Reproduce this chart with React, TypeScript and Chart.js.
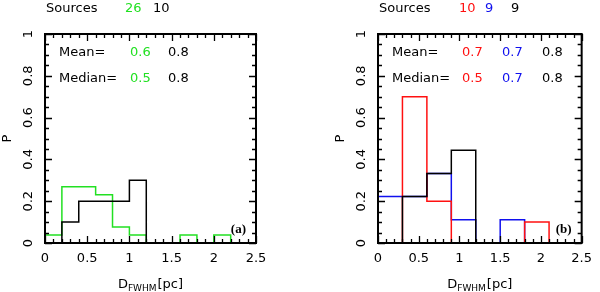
import React, { useEffect, useRef } from "react";
import { Chart, registerables } from "chart.js";
Chart.register(...registerables);

const SANS = "'DejaVu Sans', 'Liberation Sans', sans-serif";
const SERIF = "'Liberation Serif', 'DejaVu Serif', serif";

// Panel (a): bins of 0.2 pc
const edgesA = [0, 0.2, 0.4, 0.6, 0.8, 1.0, 1.2, 1.4, 1.6, 1.8, 2.0, 2.2, 2.4];
const greenA = [0.038, 0.269, 0.269, 0.231, 0.077, 0.038, 0, 0, 0.038, 0, 0.038, 0];
const blackA = [0, 0.1, 0.2, 0.2, 0.2, 0.3, 0, 0, 0, 0, 0, 0];

// Panel (b): bins of 0.3 pc
const edgesB = [0, 0.3, 0.6, 0.9, 1.2, 1.5, 1.8, 2.1, 2.4];
const redB = [0, 0.7, 0.2, 0, 0, 0, 0.1, 0];
const blueB = [0.222, 0.222, 0.333, 0.111, 0, 0.111, 0, 0];
const blackB = [0, 0.222, 0.333, 0.444, 0, 0, 0, 0];

const GREEN = "#22e022";
const RED = "#ff1010";
const BLUE = "#1010ee";
const BLACK = "#000000";

// Header / statistics text
const sourcesA = ["26", "10"];
const meanA = ["0.6", "0.8"];
const medianA = ["0.5", "0.8"];
const sourcesB = ["10", "9", "9"];
const meanB = ["0.7", "0.7", "0.8"];
const medianB = ["0.5", "0.7", "0.8"];

function makeSteps(edges: number[], vals: number[]) {
  const pts = vals.map((v, i) => ({ x: edges[i], y: v }));
  pts.push({ x: edges[vals.length], y: 0 });
  return pts;
}

function fmt(v: number) {
  return String(Math.round(v * 10) / 10);
}

type TextItem = { text: string; color: string; x: number };
type PanelCfg = {
  edges: number[];
  series: { values: number[]; color: string }[];
  yWidth: number;
  padRight: number;
  header: TextItem[];
  mean: TextItem[];
  median: TextItem[];
  tag: string;
};

function overlay(cfg: PanelCfg) {
  return {
    id: "overlay",
    afterDraw(chart: any) {
      const ctx = chart.ctx as CanvasRenderingContext2D;
      const ca = chart.chartArea;
      const xs = chart.scales.x;
      const ys = chart.scales.y;
      ctx.save();
      ctx.strokeStyle = "#000";
      ctx.fillStyle = "#000";
      // ticks
      ctx.lineWidth = 1.3;
      ctx.beginPath();
      for (let i = 0; i <= 25; i++) {
        const px = Math.round(xs.getPixelForValue(i / 10)) + 0.5;
        const len = i % 5 === 0 ? 7 : 4;
        ctx.moveTo(px, ca.bottom);
        ctx.lineTo(px, ca.bottom - len);
        ctx.moveTo(px, ca.top);
        ctx.lineTo(px, ca.top + len);
      }
      for (let i = 0; i <= 20; i++) {
        const py = Math.round(ys.getPixelForValue(i / 20)) + 0.5;
        const len = i % 4 === 0 ? 7 : 4;
        ctx.moveTo(ca.left, py);
        ctx.lineTo(ca.left + len, py);
        ctx.moveTo(ca.right, py);
        ctx.lineTo(ca.right - len, py);
      }
      ctx.stroke();
      // frame
      ctx.lineWidth = 2;
      ctx.strokeRect(ca.left, ca.top, ca.right - ca.left, ca.bottom - ca.top);
      // y tick labels (rotated)
      ctx.font = `13px ${SANS}`;
      ctx.textAlign = "center";
      ctx.textBaseline = "middle";
      for (const t of ys.ticks) {
        const py = ys.getPixelForValue(t.value);
        ctx.save();
        ctx.translate(ca.left - 16, py);
        ctx.rotate(-Math.PI / 2);
        ctx.fillText(fmt(t.value), 0, 0);
        ctx.restore();
      }
      // y title
      ctx.save();
      ctx.translate(ca.left - 37, (ca.top + ca.bottom) / 2);
      ctx.rotate(-Math.PI / 2);
      ctx.fillText("P", 0, 0);
      ctx.restore();
      // x title with subscript
      ctx.textAlign = "left";
      ctx.textBaseline = "alphabetic";
      const big = `13px ${SANS}`;
      const small = `9px ${SANS}`;
      ctx.font = big;
      const wD = ctx.measureText("D").width;
      const wPc = ctx.measureText("[pc]").width;
      ctx.font = small;
      const wSub = ctx.measureText("FWHM").width;
      const total = wD + wSub + wPc + 1;
      let x0 = (ca.left + ca.right) / 2 - total / 2;
      const base = 288;
      ctx.font = big;
      ctx.fillText("D", x0, base);
      x0 += wD;
      ctx.font = small;
      ctx.fillText("FWHM", x0, base + 3);
      x0 += wSub + 1;
      ctx.font = big;
      ctx.fillText("[pc]", x0, base);
      // header
      ctx.font = big;
      ctx.fillStyle = "#000";
      ctx.fillText("Sources", ca.left + 1, 12);
      for (const it of cfg.header) {
        ctx.fillStyle = it.color;
        ctx.fillText(it.text, it.x, 12);
      }
      ctx.fillStyle = "#000";
      ctx.fillText("Mean=", ca.left + 14, 56);
      for (const it of cfg.mean) {
        ctx.fillStyle = it.color;
        ctx.fillText(it.text, it.x, 56);
      }
      ctx.fillStyle = "#000";
      ctx.fillText("Median=", ca.left + 14, 82);
      for (const it of cfg.median) {
        ctx.fillStyle = it.color;
        ctx.fillText(it.text, it.x, 82);
      }
      // panel tag
      ctx.fillStyle = "#000";
      ctx.font = `bold 13px ${SERIF}`;
      ctx.textAlign = "right";
      ctx.fillText(cfg.tag, ca.right - 10, 233);
      ctx.restore();
    },
  };
}

function Panel({ cfg, left }: { cfg: PanelCfg; left: number }) {
  const ref = useRef<HTMLCanvasElement | null>(null);
  useEffect(() => {
    if (!ref.current) return;
    const chart = new Chart(ref.current, {
      type: "line",
      data: {
        datasets: cfg.series.map((s, i) => ({
          data: makeSteps(cfg.edges, s.values),
          borderColor: s.color,
          borderWidth: 1.5,
          stepped: true,
          pointRadius: 0,
          fill: false,
          order: i,
        })),
      },
      options: {
        responsive: false,
        animation: false,
        events: [],
        layout: { padding: { top: 34, right: cfg.padRight, left: 0, bottom: 0 } },
        plugins: { legend: { display: false }, tooltip: { enabled: false } },
        scales: {
          x: {
            type: "linear",
            min: 0,
            max: 2.5,
            ticks: {
              stepSize: 0.5,
              color: "#000",
              font: { family: SANS, size: 13 },
              padding: 8,
              maxRotation: 0,
              autoSkip: false,
              callback: (v: any) => fmt(Number(v)),
            },
            grid: { display: false, drawTicks: false },
            border: { display: false },
            afterFit: (s: any) => {
              s.height = 49;
            },
          },
          y: {
            type: "linear",
            min: 0,
            max: 1,
            ticks: { display: false, stepSize: 0.2 },
            grid: { display: false, drawTicks: false },
            border: { display: false },
            afterFit: (s: any) => {
              s.width = cfg.yWidth;
            },
          },
        },
      } as any,
      plugins: [overlay(cfg)],
    });
    return () => chart.destroy();
  }, [cfg]);
  return (
    <div style={{ position: "absolute", left, top: 0, width: 300, height: 292 }}>
      <canvas ref={ref} width={300} height={292} style={{ display: "block" }} />
    </div>
  );
}

const cfgA: PanelCfg = {
  edges: edgesA,
  series: [
    { values: blackA, color: BLACK },
    { values: greenA, color: GREEN },
  ],
  yWidth: 45,
  padRight: 44,
  header: [
    { text: sourcesA[0], color: GREEN, x: 125 },
    { text: sourcesA[1], color: BLACK, x: 153 },
  ],
  mean: [
    { text: meanA[0], color: GREEN, x: 130 },
    { text: meanA[1], color: BLACK, x: 168 },
  ],
  median: [
    { text: medianA[0], color: GREEN, x: 130 },
    { text: medianA[1], color: BLACK, x: 168 },
  ],
  tag: "(a)",
};

const cfgB: PanelCfg = {
  edges: edgesB,
  series: [
    { values: blackB, color: BLACK },
    { values: redB, color: RED },
    { values: blueB, color: BLUE },
  ],
  yWidth: 78,
  padRight: 11,
  header: [
    { text: sourcesB[0], color: RED, x: 159 },
    { text: sourcesB[1], color: BLUE, x: 185 },
    { text: sourcesB[2], color: BLACK, x: 211 },
  ],
  mean: [
    { text: meanB[0], color: RED, x: 162 },
    { text: meanB[1], color: BLUE, x: 202 },
    { text: meanB[2], color: BLACK, x: 242 },
  ],
  median: [
    { text: medianB[0], color: RED, x: 162 },
    { text: medianB[1], color: BLUE, x: 202 },
    { text: medianB[2], color: BLACK, x: 242 },
  ],
  tag: "(b)",
};

export default function App() {
  return (
    <div style={{ position: "fixed", left: 0, top: 0, width: 600, height: 292, background: "#fff" }}>
      <Panel cfg={cfgA} left={0} />
      <Panel cfg={cfgB} left={300} />
    </div>
  );
}
